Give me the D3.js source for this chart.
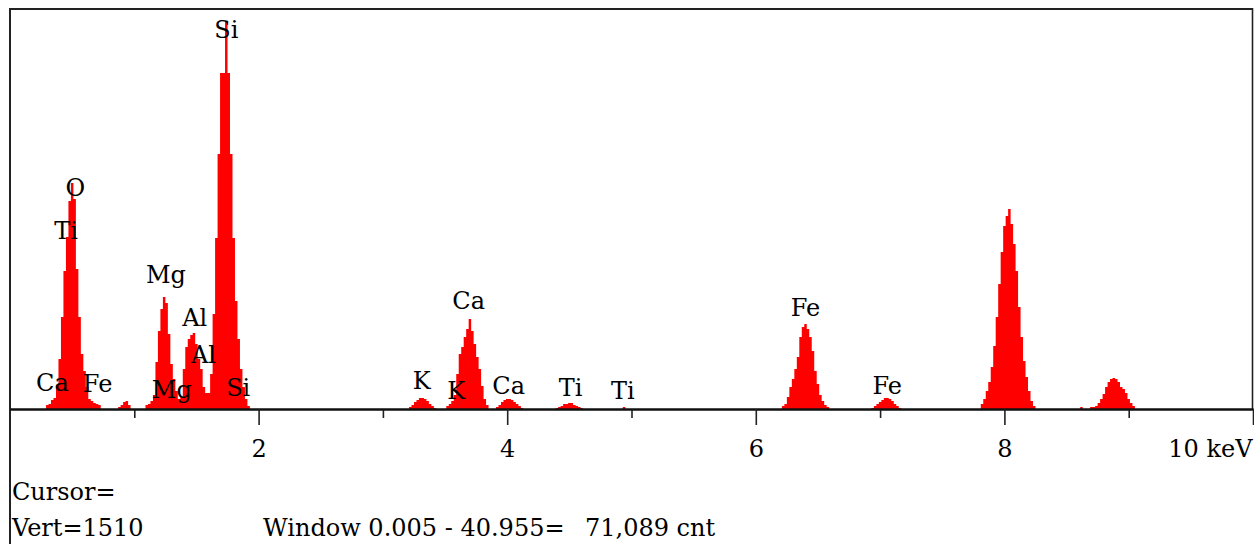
<!DOCTYPE html>
<html>
<head>
<meta charset="utf-8">
<script src="https://cdn.jsdelivr.net/npm/d3@7"></script>
<style>
  html, body { margin: 0; padding: 0; background: #fff; }
  svg { display: block; }
  text { font-family: "DejaVu Serif", serif; fill: #000; }
</style>
</head>
<body>
<svg id="chart" width="1254" height="544"></svg>
<script>
// EDS spectrum: counts per 20 eV channel, stored as runs of channels
const channelWidth = 0.02; // keV
const segmentStarts = [0.30, 0.88, 1.10, 3.22, 3.52, 3.92, 4.40, 4.94, 6.22, 6.94, 7.82, 8.62, 8.70];

const countsO      = [16, 20, 36, 44, 96, 200, 368, 552, 688, 832, 904, 840, 560, 368, 220, 152, 88, 40, 32, 24, 20, 16];
const countsCuL    = [8, 16, 28, 32, 16];
const countsMgAlSi = [16, 20, 32, 56, 188, 312, 400, 448, 424, 300, 180, 120, 72, 40, 48, 160, 248, 280, 296, 304,
                      260, 200, 160, 88, 64, 64, 140, 380, 684, 1020, 1344, 1344, 1552, 1344, 1020, 684, 432, 280, 160, 88, 40, 12];
const countsK      = [8, 16, 28, 36, 44, 44, 40, 32, 20, 12, 4];
const countsCa     = [12, 20, 32, 56, 140, 220, 248, 288, 320, 360, 312, 260, 208, 160, 92, 40, 16];
const countsCaKb   = [8, 16, 28, 36, 40, 40, 36, 28, 20, 12, 4];
const countsTi     = [4, 8, 12, 20, 20, 24, 24, 16, 12, 8, 4];
const countsTiKb   = [8];
const countsFe     = [12, 20, 48, 88, 120, 160, 208, 288, 328, 340, 320, 288, 232, 152, 100, 56, 32, 16, 8];
const countsFeKb   = [4, 12, 20, 28, 36, 44, 44, 40, 32, 20, 12, 4];
const countsCu     = [20, 40, 72, 108, 168, 252, 368, 500, 628, 732, 772, 800, 740, 660, 552, 408, 288, 192, 128, 72, 32, 12];
const countsCuSmall = [8];
const countsCuKb   = [8, 8, 12, 24, 40, 60, 88, 108, 120, 124, 120, 108, 88, 80, 64, 40, 24, 12];

const segmentCounts = [countsO, countsCuL, countsMgAlSi, countsK, countsCa, countsCaKb, countsTi, countsTiKb,
                       countsFe, countsFeKb, countsCu, countsCuSmall, countsCuKb];

// Element line markers: name, line energy (keV), label level (counts)
const labelNames    = ["Si", "O", "Ti", "Mg", "Al", "Al", "Ca", "Fe", "Mg", "Si", "K", "K", "Ca", "Ca", "Ti", "Ti", "Fe", "Fe"];
const labelEnergies = [1.740, 0.525, 0.452, 1.254, 1.486, 1.557, 0.341, 0.705, 1.302, 1.836, 3.313, 3.590, 3.690, 4.012, 4.510, 4.931, 6.400, 7.058];
const labelLevels   = [1486, 854, 682, 506, 334, 186, 74, 70, 46, 54, 82, 42, 402, 62, 54, 42, 374, 62];

const minorTicks = [1, 3, 5, 7, 9];
const majorTicks = [2, 4, 6, 8, 10];
const majorTickLabels = ["2", "4", "6", "8", "10 keV"];

const cursorText = "Cursor=";
const vertText = "Vert=1510";
const windowText = "Window 0.005 - 40.955=";
const totalText = "71,089 cnt";

// ---- build the channel list ----
const nChannels = Math.round(10 / channelWidth) + 1;
const channels = d3.range(nChannels).map(i => ({ e: i * channelWidth, c: 0 }));
segmentStarts.forEach((start, s) => {
  const i0 = Math.round(start / channelWidth);
  segmentCounts[s].forEach((c, k) => { channels[i0 + k].c = c; });
});

const svg = d3.select("#chart");
const x = d3.scaleLinear().domain([0, 10]).range([10, 1253]);
const y = d3.scaleLinear().domain([0, 1600]).range([409, 9]);

// spectrum fill
const area = d3.area()
  .x(d => x(d.e))
  .y0(y(0))
  .y1(d => y(d.c))
  .curve(d3.curveStep);
svg.append("path")
  .datum(channels)
  .attr("d", area)
  .attr("fill", "#ff0000");

// frame
const frameColor = "#222";
svg.append("line").attr("x1", x(0)).attr("x2", x(10)).attr("y1", 9).attr("y2", 9)
  .attr("stroke", frameColor).attr("stroke-width", 2);
svg.append("line").attr("x1", x(0)).attr("x2", x(0)).attr("y1", 8).attr("y2", 544)
  .attr("stroke", frameColor).attr("stroke-width", 2);
svg.append("line").attr("x1", x(10) - 0.5).attr("x2", x(10) - 0.5).attr("y1", 8).attr("y2", y(0))
  .attr("stroke", frameColor).attr("stroke-width", 1.6);

// energy axis
const minorAxis = d3.axisBottom(x).tickValues(minorTicks).tickSize(9).tickFormat("").tickSizeOuter(0);
const majorAxis = d3.axisBottom(x).tickValues(majorTicks).tickSize(16).tickSizeOuter(0)
  .tickFormat((d, i) => majorTickLabels[i]);

const gMinor = svg.append("g").attr("transform", `translate(0,${y(0)})`).call(minorAxis);
const gMajor = svg.append("g").attr("transform", `translate(0,${y(0)})`).call(majorAxis);
[gMinor, gMajor].forEach(g => {
  g.select(".domain").attr("stroke", "#111").attr("stroke-width", 1.8);
  g.selectAll(".tick line").attr("stroke", "#222").attr("stroke-width", 1.6);
});
gMajor.selectAll(".tick text")
  .attr("font-family", "DejaVu Serif, serif")
  .attr("font-size", 24)
  .attr("fill", "#000")
  .attr("y", 48)
  .attr("dy", 0)
  .attr("text-anchor", (d, i) => i === majorTicks.length - 1 ? "end" : "middle")
  .attr("x", (d, i) => i === majorTicks.length - 1 ? -1 : 0);

// element labels
svg.append("g").selectAll("text")
  .data(labelNames)
  .join("text")
  .attr("x", (d, i) => x(labelEnergies[i]))
  .attr("y", (d, i) => y(labelLevels[i]))
  .attr("text-anchor", "middle")
  .attr("font-size", 24)
  .text(d => d);

// status lines under the plot
const status = svg.append("g").attr("font-size", 24);
status.append("text").attr("x", 12).attr("y", 500).text(cursorText);
status.append("text").attr("x", 12).attr("y", 536).text(vertText);
status.append("text").attr("x", 263).attr("y", 536).text(windowText);
status.append("text").attr("x", 585).attr("y", 536).text(totalText);
</script>
</body>
</html>
